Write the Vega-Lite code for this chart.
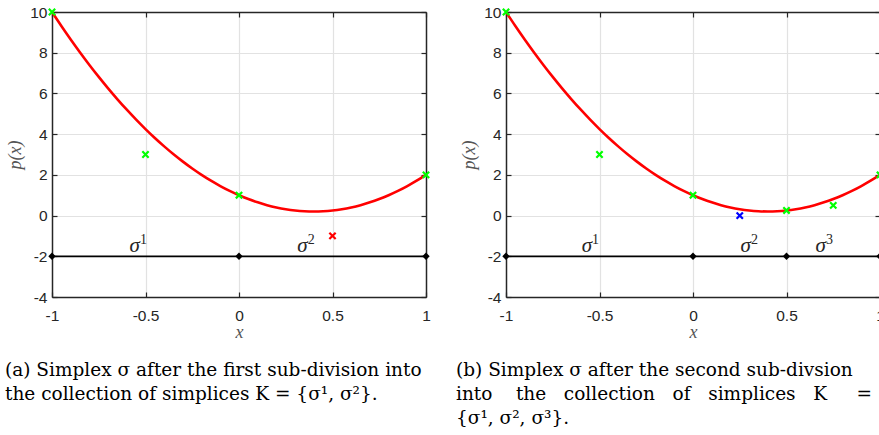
{
  "$schema": "https://vega.github.io/schema/vega-lite/v6.json",
  "background": "white",
  "padding": {"left": 5, "top": 4, "right": 0, "bottom": 0},
  "spacing": 80,
  "bounds": "flush",
  "config": {
    "view": {"stroke": null},
    "axis": {
      "labelFont": "Liberation Sans",
      "labelFontSize": 15.5,
      "labelColor": "#262626",
      "labelFlush": false,
      "labelOverlap": false,
      "titleFont": "Liberation Serif",
      "titleFontStyle": "italic",
      "titleFontWeight": "normal",
      "titleFontSize": 18,
      "titleColor": "#555555",
      "domainColor": "#262626",
      "domainWidth": 1.5,
      "tickColor": "#262626",
      "tickWidth": 1.2,
      "gridColor": "#e2e2e2",
      "gridWidth": 1.2
    },
    "title": {
      "font": "DejaVu Serif",
      "fontSize": 18.5,
      "fontWeight": "normal",
      "color": "#000000",
      "lineHeight": 24
    }
  },
  "datasets": {
    "curve": [
      {"x": -1, "p": 10}, {"x": -0.95, "p": 9.3125}, {"x": -0.9, "p": 8.65}, {"x": -0.85, "p": 8.0125},
      {"x": -0.8, "p": 7.4}, {"x": -0.75, "p": 6.8125}, {"x": -0.7, "p": 6.25}, {"x": -0.65, "p": 5.7125},
      {"x": -0.6, "p": 5.2}, {"x": -0.55, "p": 4.7125}, {"x": -0.5, "p": 4.25}, {"x": -0.45, "p": 3.8125},
      {"x": -0.4, "p": 3.4}, {"x": -0.35, "p": 3.0125}, {"x": -0.3, "p": 2.65}, {"x": -0.25, "p": 2.3125},
      {"x": -0.2, "p": 2.0}, {"x": -0.15, "p": 1.7125}, {"x": -0.1, "p": 1.45}, {"x": -0.05, "p": 1.2125},
      {"x": 0, "p": 1}, {"x": 0.05, "p": 0.8125}, {"x": 0.1, "p": 0.65}, {"x": 0.15, "p": 0.5125},
      {"x": 0.2, "p": 0.4}, {"x": 0.25, "p": 0.3125}, {"x": 0.3, "p": 0.25}, {"x": 0.35, "p": 0.2125},
      {"x": 0.4, "p": 0.2}, {"x": 0.45, "p": 0.2125}, {"x": 0.5, "p": 0.25}, {"x": 0.55, "p": 0.3125},
      {"x": 0.6, "p": 0.4}, {"x": 0.65, "p": 0.5125}, {"x": 0.7, "p": 0.65}, {"x": 0.75, "p": 0.8125},
      {"x": 0.8, "p": 1}, {"x": 0.85, "p": 1.2125}, {"x": 0.9, "p": 1.45}, {"x": 0.95, "p": 1.7125},
      {"x": 1, "p": 2}
    ],
    "pointsA": [
      {"x": -1, "p": 10, "status": "kept"},
      {"x": -0.5, "p": 3, "status": "kept"},
      {"x": 0, "p": 1, "status": "kept"},
      {"x": 1, "p": 2, "status": "kept"},
      {"x": 0.5, "p": -1, "status": "rejected"}
    ],
    "pointsB": [
      {"x": -1, "p": 10, "status": "kept"},
      {"x": -0.5, "p": 3, "status": "kept"},
      {"x": 0, "p": 1, "status": "kept"},
      {"x": 0.5, "p": 0.25, "status": "kept"},
      {"x": 0.75, "p": 0.5, "status": "kept"},
      {"x": 1, "p": 2, "status": "kept"},
      {"x": 0.25, "p": 0, "status": "new"}
    ],
    "simplexA": [{"x": -1, "p": -2}, {"x": 0, "p": -2}, {"x": 1, "p": -2}],
    "simplexB": [{"x": -1, "p": -2}, {"x": 0, "p": -2}, {"x": 0.5, "p": -2}, {"x": 1, "p": -2}],
    "labelsA": [{"x": -0.546, "p": -2, "sym": "σ", "sup": "1"}, {"x": 0.351, "p": -2, "sym": "σ", "sup": "2"}],
    "labelsB": [{"x": -0.556, "p": -2, "sym": "σ", "sup": "1"}, {"x": 0.294, "p": -2, "sym": "σ", "sup": "2"}, {"x": 0.695, "p": -2, "sym": "σ", "sup": "3"}]
  },
  "hconcat": [
    {
      "width": 374,
      "height": 285,
      "title": {
        "text": ["(a) Simplex σ after the first sub-division into", "the collection of simplices K = {σ¹, σ²}."],
        "orient": "bottom", "anchor": "start", "frame": "group", "dx": -47, "offset": 19
      },
      "resolve": {"axis": {"x": "independent", "y": "independent"}},
      "layer": [
        {
          "data": {"name": "curve"},
          "mark": {"type": "line", "color": "#ff0000", "strokeWidth": 2.6, "interpolate": "monotone"},
          "encoding": {
            "x": {"field": "x", "type": "quantitative", "scale": {"domain": [-1, 1], "nice": false, "zero": false},
                  "axis": {"orient": "bottom", "values": [-0.5, 0, 0.5], "grid": true, "labels": false, "ticks": false, "domain": false, "title": null}},
            "y": {"field": "p", "type": "quantitative", "scale": {"domain": [-4, 10], "nice": false, "zero": false},
                  "axis": {"orient": "left", "values": [-2, 0, 2, 4, 6, 8], "grid": true, "labels": false, "ticks": false, "domain": false, "title": null}}
          }
        },
        {
          "data": {"name": "simplexA"},
          "mark": {"type": "line", "color": "#000000", "strokeWidth": 1.8, "point": {"shape": "diamond", "filled": true, "size": 55, "color": "#000000"}},
          "encoding": {
            "x": {"field": "x", "type": "quantitative",
                  "axis": {"orient": "bottom", "values": [-1, -0.5, 0, 0.5, 1], "grid": false, "tickSize": -5, "labelPadding": 16, "labelExpr": "toString(datum.value)", "title": "x", "titlePadding": 0}},
            "y": {"field": "p", "type": "quantitative",
                  "axis": {"orient": "left", "values": [-4, -2, 0, 2, 4, 6, 8, 10], "grid": false, "tickSize": -5, "labelPadding": 10, "labelExpr": "toString(datum.value)", "title": "p(x)", "titlePadding": 5}}
          }
        },
        {
          "data": {"name": "pointsA"},
          "mark": {"type": "point", "shape": "M-1,-1L1,1M-1,1L1,-1", "filled": false, "size": 40, "strokeWidth": 2.2, "opacity": 1},
          "encoding": {
            "x": {"field": "x", "type": "quantitative",
                  "axis": {"orient": "top", "values": [-1, -0.5, 0, 0.5, 1], "grid": false, "tickSize": -5, "labels": false, "title": null}},
            "y": {"field": "p", "type": "quantitative",
                  "axis": {"orient": "right", "values": [-4, -2, 0, 2, 4, 6, 8, 10], "grid": false, "tickSize": -5, "labels": false, "title": null}},
            "color": {"field": "status", "type": "nominal", "legend": null,
                      "scale": {"domain": ["kept", "rejected", "new"], "range": ["#00ff00", "#ff0000", "#0000ff"]}}
          }
        },
        {
          "data": {"name": "labelsA"},
          "mark": {"type": "text", "font": "Liberation Serif", "fontStyle": "italic", "fontSize": 21, "color": "#262626", "align": "right", "baseline": "alphabetic", "dx": 3, "dy": -4},
          "encoding": {
            "x": {"field": "x", "type": "quantitative", "axis": null},
            "y": {"field": "p", "type": "quantitative", "axis": null},
            "text": {"field": "sym"}
          }
        },
        {
          "data": {"name": "labelsA"},
          "mark": {"type": "text", "font": "Liberation Serif", "fontSize": 14, "color": "#262626", "align": "left", "baseline": "alphabetic", "dx": 3, "dy": -12},
          "encoding": {
            "x": {"field": "x", "type": "quantitative", "axis": null},
            "y": {"field": "p", "type": "quantitative", "axis": null},
            "text": {"field": "sup"}
          }
        }
      ]
    },
    {
      "width": 374,
      "height": 285,
      "title": {
        "text": ["(b) Simplex σ after the second sub-divsion", "into\u00a0\u00a0\u00a0\u00a0the\u00a0\u00a0\u00a0collection\u00a0\u00a0\u00a0of\u00a0\u00a0\u00a0simplices\u00a0\u00a0\u00a0K\u00a0\u00a0\u00a0\u00a0\u00a0=", "{σ¹, σ², σ³}."],
        "orient": "bottom", "anchor": "start", "frame": "group", "dx": -50, "offset": 19
      },
      "resolve": {"axis": {"x": "independent", "y": "independent"}},
      "layer": [
        {
          "data": {"name": "curve"},
          "mark": {"type": "line", "color": "#ff0000", "strokeWidth": 2.6, "interpolate": "monotone"},
          "encoding": {
            "x": {"field": "x", "type": "quantitative", "scale": {"domain": [-1, 1], "nice": false, "zero": false},
                  "axis": {"orient": "bottom", "values": [-0.5, 0, 0.5], "grid": true, "labels": false, "ticks": false, "domain": false, "title": null}},
            "y": {"field": "p", "type": "quantitative", "scale": {"domain": [-4, 10], "nice": false, "zero": false},
                  "axis": {"orient": "left", "values": [-2, 0, 2, 4, 6, 8], "grid": true, "labels": false, "ticks": false, "domain": false, "title": null}}
          }
        },
        {
          "data": {"name": "simplexB"},
          "mark": {"type": "line", "color": "#000000", "strokeWidth": 1.8, "point": {"shape": "diamond", "filled": true, "size": 55, "color": "#000000"}},
          "encoding": {
            "x": {"field": "x", "type": "quantitative",
                  "axis": {"orient": "bottom", "values": [-1, -0.5, 0, 0.5, 1], "grid": false, "tickSize": -5, "labelPadding": 16, "labelExpr": "toString(datum.value)", "title": "x", "titlePadding": 0}},
            "y": {"field": "p", "type": "quantitative",
                  "axis": {"orient": "left", "values": [-4, -2, 0, 2, 4, 6, 8, 10], "grid": false, "tickSize": -5, "labelPadding": 10, "labelExpr": "toString(datum.value)", "title": "p(x)", "titlePadding": 5}}
          }
        },
        {
          "data": {"name": "pointsB"},
          "mark": {"type": "point", "shape": "M-1,-1L1,1M-1,1L1,-1", "filled": false, "size": 40, "strokeWidth": 2.2, "opacity": 1},
          "encoding": {
            "x": {"field": "x", "type": "quantitative",
                  "axis": {"orient": "top", "values": [-1, -0.5, 0, 0.5, 1], "grid": false, "tickSize": -5, "labels": false, "title": null}},
            "y": {"field": "p", "type": "quantitative",
                  "axis": {"orient": "right", "values": [-4, -2, 0, 2, 4, 6, 8, 10], "grid": false, "tickSize": -5, "labels": false, "title": null}},
            "color": {"field": "status", "type": "nominal", "legend": null,
                      "scale": {"domain": ["kept", "rejected", "new"], "range": ["#00ff00", "#ff0000", "#0000ff"]}}
          }
        },
        {
          "data": {"name": "labelsB"},
          "mark": {"type": "text", "font": "Liberation Serif", "fontStyle": "italic", "fontSize": 21, "color": "#262626", "align": "right", "baseline": "alphabetic", "dx": 3, "dy": -4},
          "encoding": {
            "x": {"field": "x", "type": "quantitative", "axis": null},
            "y": {"field": "p", "type": "quantitative", "axis": null},
            "text": {"field": "sym"}
          }
        },
        {
          "data": {"name": "labelsB"},
          "mark": {"type": "text", "font": "Liberation Serif", "fontSize": 14, "color": "#262626", "align": "left", "baseline": "alphabetic", "dx": 3, "dy": -12},
          "encoding": {
            "x": {"field": "x", "type": "quantitative", "axis": null},
            "y": {"field": "p", "type": "quantitative", "axis": null},
            "text": {"field": "sup"}
          }
        }
      ]
    }
  ]
}
